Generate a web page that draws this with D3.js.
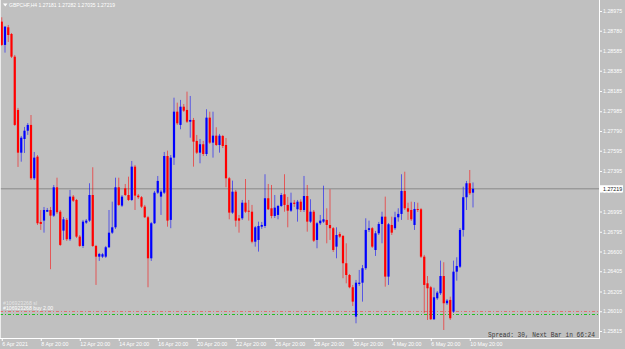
<!DOCTYPE html>
<html lang="en">
<head>
<meta charset="UTF-8">
<title>GBPCHF,H4</title>
<script src="https://d3js.org/d3.v7.min.js"></script>
<style>
  body { margin: 0; background: #c0c0c0; }
  svg { display: block; font-family: "Liberation Sans", Arial, sans-serif; }
</style>
</head>
<body>
<div id="chart"></div>
<script>
// H4 bars, oldest first
const opens = [
  1.28870, 1.28640, 1.28814, 1.28748, 1.28524, 1.27998, 1.27576, 1.27711, 1.27793, 1.27850,
  1.27323, 1.27537, 1.26892, 1.26905, 1.26993, 1.27010, 1.26954, 1.27234, 1.26993, 1.26806,
  1.26912, 1.26721, 1.27142, 1.27109, 1.26747, 1.26655, 1.26885, 1.26905, 1.27158, 1.26655,
  1.26549, 1.26549, 1.26549, 1.26642, 1.26786, 1.26839, 1.27234, 1.27053, 1.27224, 1.27158,
  1.27109, 1.27438, 1.27152, 1.27136, 1.27043, 1.26938, 1.26533, 1.26879, 1.27181, 1.27142,
  1.27181, 1.27543, 1.26912, 1.27527, 1.27981, 1.27850, 1.28030, 1.27998, 1.27882, 1.27899,
  1.27692, 1.27576, 1.27659, 1.27563, 1.27922, 1.27675, 1.27744, 1.27652, 1.27741, 1.27652,
  1.27323, 1.26984, 1.27191, 1.26928, 1.26928, 1.27082, 1.27003, 1.26993, 1.26697, 1.26714,
  1.26845, 1.26852, 1.27126, 1.27027, 1.26951, 1.26961, 1.27050, 1.27165, 1.27060, 1.27003,
  1.27082, 1.27017, 1.27092, 1.27010, 1.27148, 1.26895, 1.26993, 1.26714, 1.26879, 1.26895,
  1.26912, 1.26862, 1.26830, 1.26648, 1.26773, 1.26754, 1.26484, 1.26368, 1.26247, 1.25957,
  1.26280, 1.26292, 1.26435, 1.26813, 1.26830, 1.26615, 1.26780, 1.26872, 1.26944, 1.26352,
  1.26862, 1.26830, 1.26938, 1.26971, 1.27198, 1.27027, 1.27010, 1.26862, 1.27020, 1.27017,
  1.26549, 1.26286, 1.26247, 1.25931, 1.26138, 1.26188, 1.26358, 1.26089, 1.26122, 1.26006,
  1.26401, 1.26450, 1.26813, 1.27136, 1.27274, 1.27181
];
const highs = [
  1.28913, 1.28827, 1.28837, 1.28758, 1.28541, 1.28018, 1.27741, 1.27830, 1.27869, 1.27948,
  1.27583, 1.27553, 1.27010, 1.27040, 1.27030, 1.27040, 1.27257, 1.27329, 1.27010, 1.26941,
  1.26931, 1.27208, 1.27158, 1.27119, 1.26763, 1.26912, 1.26921, 1.27274, 1.27432, 1.26665,
  1.26586, 1.26586, 1.26655, 1.27010, 1.27092, 1.27329, 1.27329, 1.27158, 1.27267, 1.27339,
  1.27494, 1.27455, 1.27168, 1.27148, 1.27060, 1.26951, 1.26892, 1.27198, 1.27346, 1.27208,
  1.27583, 1.27596, 1.27553, 1.28119, 1.28070, 1.28097, 1.28057, 1.28179, 1.28136, 1.27919,
  1.27751, 1.27711, 1.27692, 1.28005, 1.27981, 1.27981, 1.27827, 1.27761, 1.27751, 1.27721,
  1.27336, 1.27300, 1.27208, 1.26961, 1.27109, 1.27316, 1.27109, 1.27060, 1.26852, 1.26895,
  1.26892, 1.27363, 1.27267, 1.27257, 1.27158, 1.27060, 1.27178, 1.27363, 1.27139, 1.27181,
  1.27109, 1.27109, 1.27116, 1.27346, 1.27257, 1.27116, 1.27010, 1.26892, 1.26961, 1.27250,
  1.27027, 1.27215, 1.26842, 1.26839, 1.26793, 1.26763, 1.26681, 1.26378, 1.26270, 1.26319,
  1.26418, 1.26467, 1.26928, 1.26905, 1.26842, 1.26803, 1.26892, 1.26993, 1.27142, 1.26882,
  1.26944, 1.26993, 1.27027, 1.27363, 1.27388, 1.27082, 1.27092, 1.27089, 1.27082, 1.27030,
  1.26566, 1.26358, 1.26260, 1.26243, 1.26210, 1.26510, 1.26494, 1.26131, 1.26154, 1.26510,
  1.26543, 1.26832, 1.27240, 1.27297, 1.27405, 1.27282
];
const lows = [
  1.28630, 1.28564, 1.28669, 1.28511, 1.27840, 1.27435, 1.27487, 1.27573, 1.27751, 1.27306,
  1.27306, 1.26862, 1.26813, 1.26786, 1.26990, 1.26425, 1.26941, 1.26971, 1.26655, 1.26714,
  1.26704, 1.26704, 1.27089, 1.26734, 1.26645, 1.26635, 1.26872, 1.26892, 1.26645, 1.26270,
  1.26507, 1.26536, 1.26536, 1.26635, 1.26773, 1.26823, 1.27050, 1.27040, 1.27148, 1.27099,
  1.27099, 1.27010, 1.27119, 1.27030, 1.26931, 1.26247, 1.26507, 1.26872, 1.27168, 1.26961,
  1.27168, 1.26845, 1.26830, 1.27455, 1.27850, 1.27807, 1.27978, 1.27869, 1.27724, 1.27438,
  1.27563, 1.27471, 1.27543, 1.27543, 1.27662, 1.27527, 1.27642, 1.27576, 1.27622, 1.27234,
  1.26918, 1.26971, 1.26845, 1.26786, 1.26912, 1.26981, 1.26905, 1.26681, 1.26648, 1.26599,
  1.26823, 1.26833, 1.27010, 1.26928, 1.26931, 1.26918, 1.27040, 1.26993, 1.26839, 1.26990,
  1.27040, 1.26895, 1.26990, 1.26990, 1.26796, 1.26882, 1.26694, 1.26632, 1.26862, 1.26882,
  1.26681, 1.26714, 1.26596, 1.26533, 1.26734, 1.26336, 1.26286, 1.26237, 1.26062, 1.25891,
  1.26260, 1.26105, 1.26418, 1.26793, 1.26635, 1.26556, 1.26763, 1.26681, 1.26253, 1.26270,
  1.26763, 1.26813, 1.26895, 1.26912, 1.27010, 1.26912, 1.26902, 1.26813, 1.26990, 1.26536,
  1.25990, 1.25924, 1.25924, 1.25924, 1.26122, 1.26171, 1.25825, 1.26072, 1.25924, 1.25993,
  1.26312, 1.26437, 1.26747, 1.27010, 1.27158, 1.27035
];
const closes = [
  1.28640, 1.28820, 1.28738, 1.28524, 1.27850, 1.27576, 1.27724, 1.27793, 1.27850, 1.27323,
  1.27527, 1.26879, 1.26872, 1.27010, 1.27010, 1.26954, 1.27234, 1.26988, 1.26665, 1.26918,
  1.26721, 1.27142, 1.27102, 1.26747, 1.26655, 1.26895, 1.26905, 1.27158, 1.26655, 1.26549,
  1.26576, 1.26573, 1.26642, 1.26786, 1.26839, 1.27234, 1.27060, 1.27142, 1.27158, 1.27109,
  1.27438, 1.27152, 1.27136, 1.27043, 1.26938, 1.26533, 1.26879, 1.27181, 1.27297, 1.27191,
  1.27543, 1.26905, 1.27527, 1.27981, 1.27866, 1.28030, 1.27991, 1.27882, 1.27899, 1.27685,
  1.27576, 1.27659, 1.27563, 1.27922, 1.27675, 1.27744, 1.27652, 1.27744, 1.27642, 1.27323,
  1.26984, 1.27191, 1.26905, 1.26905, 1.27082, 1.26993, 1.26993, 1.26697, 1.26839, 1.26852,
  1.26862, 1.27126, 1.27017, 1.26951, 1.27033, 1.27050, 1.27158, 1.27060, 1.27003, 1.27082,
  1.27070, 1.27092, 1.27010, 1.27148, 1.26895, 1.26993, 1.26707, 1.26879, 1.26905, 1.26918,
  1.26862, 1.26830, 1.26615, 1.26763, 1.26747, 1.26484, 1.26368, 1.26247, 1.26105, 1.26292,
  1.26292, 1.26435, 1.26813, 1.26830, 1.26648, 1.26780, 1.26872, 1.26944, 1.26352, 1.26869,
  1.26786, 1.26938, 1.26971, 1.27198, 1.27027, 1.26993, 1.26918, 1.27020, 1.27010, 1.26549,
  1.26270, 1.26237, 1.25931, 1.26148, 1.26194, 1.26358, 1.26089, 1.26115, 1.25941, 1.26401,
  1.26457, 1.26813, 1.27136, 1.27274, 1.27175, 1.27219
];

const priceTicks = [1.28975, 1.28780, 1.28585, 1.28385, 1.28185, 1.27985, 1.27790, 1.27595,
  1.27395, 1.27195, 1.26995, 1.26795, 1.26600, 1.26405, 1.26205, 1.26010, 1.25815];
const timeLabels = ["6 Apr 2021", "8 Apr 20:00", "12 Apr 20:00", "14 Apr 20:00", "16 Apr 20:00",
  "20 Apr 20:00", "22 Apr 20:00", "26 Apr 20:00", "28 Apr 20:00", "30 Apr 20:00",
  "4 May 20:00", "6 May 20:00", "10 May 20:00"];
const timeLabelBars = [0, 12, 24, 36, 48, 60, 72, 84, 96, 108, 120, 132, 144];
const orderPrices = [1.26012, 1.25983];
const orderTexts = ["#106923268 sl", "#106923268 buy 2.00"];
const title = "GBPCHF,H4  1.27181 1.27282 1.27035 1.27219";
const spreadText = "Spread: 30, Next Bar in 66:24";

const width = 625, height = 349;
const plotRight = 599, plotBottom = 338;

const svg = d3.select("#chart").append("svg")
  .attr("width", width)
  .attr("height", height);

svg.append("rect").attr("width", width).attr("height", height).attr("fill", "#c0c0c0");

// bar index -> pixel, price -> pixel
const x = d3.scaleLinear().domain([0, 184]).range([1.75, 1.75 + 3.25 * 184]);
const y = d3.scaleLinear().domain([1.25815, 1.28975]).range([331, 11]);

svg.append("clipPath").attr("id", "plotclip")
  .append("rect").attr("x", 0).attr("y", 0).attr("width", plotRight).attr("height", plotBottom);

const plot = svg.append("g").attr("clip-path", "url(#plotclip)");

const bars = opens.map((o, i) => ({i, o, h: highs[i], l: lows[i], c: closes[i]}));
const col = d => d.c >= d.o ? "#0000ff" : "#ff0000";

// current price line
const last = closes[closes.length - 1];
plot.append("line")
  .attr("x1", 0).attr("x2", plotRight)
  .attr("y1", y(last)).attr("y2", y(last))
  .attr("stroke", "#8a8a8a").attr("stroke-width", 1);

// order lines
const orderColors = ["#e07070", "#1fc01f"];
orderPrices.forEach((p, k) => {
  plot.append("line")
    .attr("x1", 0).attr("x2", plotRight)
    .attr("y1", Math.round(y(p)) + 0.5).attr("y2", Math.round(y(p)) + 0.5)
    .attr("stroke", orderColors[k]).attr("stroke-width", 1)
    .attr("stroke-dasharray", "3,2,1,2");
});

// wicks
plot.selectAll(".wick").data(bars).join("line")
  .attr("class", "wick")
  .attr("x1", d => x(d.i)).attr("x2", d => x(d.i))
  .attr("y1", d => y(d.h)).attr("y2", d => y(d.l))
  .attr("stroke", col).attr("stroke-width", 1).attr("stroke-opacity", 0.55);

// bodies
plot.selectAll(".body").data(bars).join("rect")
  .attr("class", "body")
  .attr("x", d => x(d.i) - 1.1)
  .attr("width", 2.2)
  .attr("y", d => y(Math.max(d.o, d.c)))
  .attr("height", d => Math.max(1, Math.abs(y(d.o) - y(d.c))))
  .attr("fill", col);

// order labels
orderTexts.forEach((t, k) => {
  svg.append("text")
    .attr("x", 3).attr("y", k === 0 ? 304.6 : 310.4)
    .attr("font-size", 5.2).attr("fill", "#ffffff")
    .attr("fill-opacity", k === 0 ? 0.6 : 1)
    .text(t);
});

// frame
svg.append("line").attr("x1", 0.5).attr("x2", 0.5).attr("y1", 0).attr("y2", plotBottom)
  .attr("stroke", "#ffffff").attr("stroke-opacity", 0.7);

// price axis
const yAxis = svg.append("g")
  .attr("transform", `translate(${plotRight},0)`)
  .call(d3.axisRight(y).tickValues(priceTicks).tickFormat(d3.format(".5f"))
    .tickSize(3).tickSizeOuter(0).tickPadding(1));
yAxis.select(".domain").remove();
yAxis.selectAll("line").attr("stroke", "#ffffff");
yAxis.selectAll("text").attr("fill", "#ffffff").attr("font-size", 5.3)
  .attr("font-family", "Liberation Sans, Arial, sans-serif");

svg.append("line").attr("x1", plotRight + 0.5).attr("x2", plotRight + 0.5)
  .attr("y1", 0).attr("y2", plotBottom + 0.5)
  .attr("stroke", "#ffffff");

// current price label
svg.append("rect")
  .attr("x", plotRight + 1).attr("y", y(last) - 3.6)
  .attr("width", 23).attr("height", 7.2)
  .attr("fill", "#ffffff");
svg.append("text")
  .attr("x", plotRight + 4).attr("y", y(last))
  .attr("dy", "0.35em")
  .attr("font-size", 5.3).attr("fill", "#202020")
  .text(d3.format(".5f")(last));

// time axis
const xAxis = svg.append("g")
  .attr("transform", `translate(0,${plotBottom})`)
  .call(d3.axisBottom(x).tickValues(timeLabelBars)
    .tickFormat((d, i) => timeLabels[i])
    .tickSize(3).tickSizeOuter(0).tickPadding(1.5));
xAxis.select(".domain").remove();
xAxis.selectAll("line").attr("stroke", "#ffffff");
xAxis.selectAll("text").attr("fill", "#ffffff").attr("font-size", 5.3)
  .attr("text-anchor", "start")
  .attr("font-family", "Liberation Sans, Arial, sans-serif");

svg.append("line").attr("x1", 0).attr("x2", plotRight + 1)
  .attr("y1", plotBottom + 0.5).attr("y2", plotBottom + 0.5)
  .attr("stroke", "#ffffff");

// title
svg.append("path").attr("d", "M3,3.5 L7.5,3.5 L5.25,6.5 Z").attr("fill", "#ffffff");
svg.append("text")
  .attr("x", 9).attr("y", 7.2)
  .attr("font-size", 5.4).attr("fill", "#ffffff")
  .attr("textLength", 106).attr("lengthAdjust", "spacingAndGlyphs")
  .text(title);

// spread info
svg.append("text")
  .attr("x", 488).attr("y", 336.6)
  .attr("font-family", "Liberation Mono, DejaVu Sans Mono, monospace")
  .attr("font-size", 6.6).attr("fill", "#3a3a3a")
  .attr("textLength", 107).attr("lengthAdjust", "spacingAndGlyphs")
  .text(spreadText);
</script>
</body>
</html>
